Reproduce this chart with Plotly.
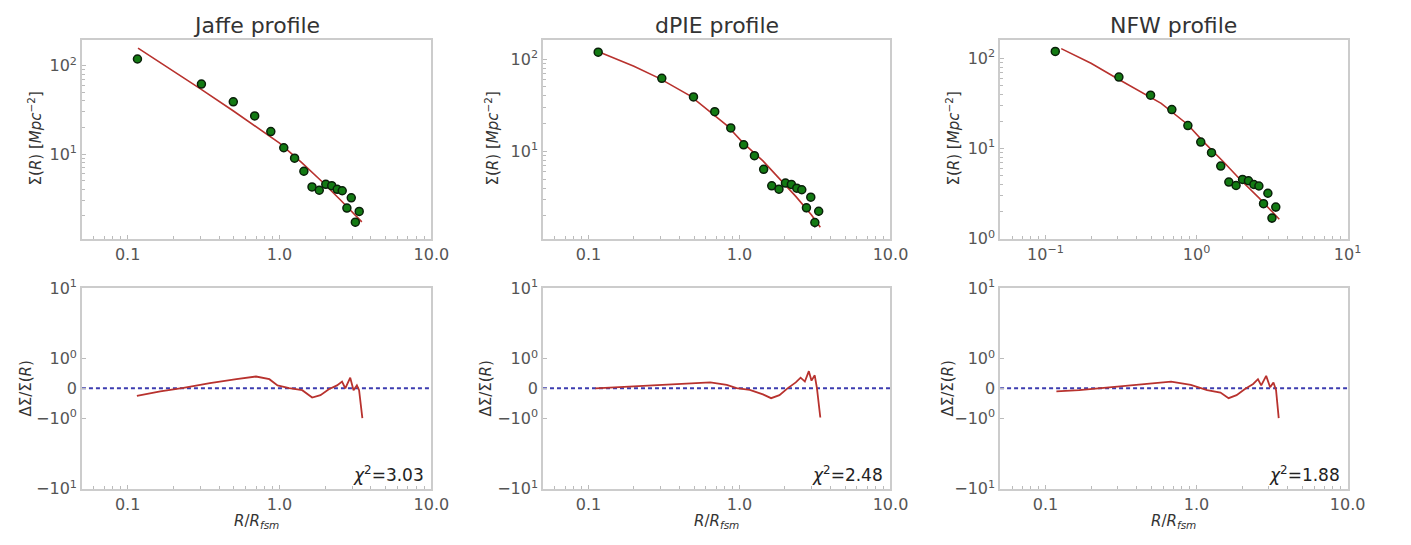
import numpy as np
import plotly.graph_objects as go

# ---------------- data ----------------
r_data = [0.116, 0.306, 0.496, 0.686, 0.876, 1.066, 1.256, 1.446, 1.636,
          1.826, 2.016, 2.206, 2.396, 2.586, 2.776, 2.966, 3.156, 3.346]
sigma_data = [119, 62, 39, 27, 18, 11.8, 9.0, 6.4, 4.25,
              3.9, 4.55, 4.4, 4.0, 3.85, 2.45, 3.2, 1.7, 2.25]
sigma_err = [5, 3, 2.2, 1.6, 1.1, 0.8, 0.6, 0.45, 0.35,
             0.3, 0.35, 0.35, 0.3, 0.3, 0.25, 0.3, 0.2, 0.25]

jaffe_r = [0.117, 0.2, 0.3, 0.5, 0.7, 1.0, 1.4, 1.9, 2.5, 3.0, 3.48]
jaffe_s = [158, 87.5, 55, 30.5, 20.5, 13.3, 8.0, 4.9, 3.07, 2.24, 1.71]

dpie_r = [0.12, 0.2, 0.295, 0.475, 0.824, 1.057, 1.43, 1.79, 2.36, 3.0, 3.43]
dpie_s = [118, 84, 62, 39.8, 19.2, 12.4, 7.9, 5.28, 3.26, 2.05, 1.51]

nfw_r = [0.127, 0.2, 0.304, 0.583, 0.869, 1.117, 1.5, 1.93, 2.61, 3.1, 3.53]
nfw_s = [128, 88, 58.6, 31.7, 18.6, 11.8, 7.2, 4.6, 2.81, 2.1, 1.65]

jaffe_res_r = [0.115, 0.164, 0.233, 0.348, 0.52, 0.70, 0.857, 0.97, 1.156, 1.41,
               1.64, 1.86, 2.11, 2.39, 2.58, 2.71, 2.92, 3.07, 3.23, 3.34, 3.51]
jaffe_res = [-0.25, -0.1, 0.02, 0.18, 0.31, 0.40, 0.31, 0.1, 0.01, -0.06,
             -0.31, -0.23, -0.03, 0.1, 0.23, 0.0, 0.36, -0.06, 0.1, -0.06, -1.0]

dpie_res_r = [0.111, 0.193, 0.352, 0.641, 0.824, 0.957, 1.17, 1.43, 1.62, 1.84,
              2.08, 2.36, 2.54, 2.71, 2.88, 3.0, 3.15, 3.26, 3.43]
dpie_res = [0.0, 0.06, 0.15, 0.2, 0.12, 0.01, -0.05, -0.2, -0.33, -0.23,
            0.0, 0.2, 0.36, 0.23, 0.58, 0.26, 0.44, 0.0, -0.98]

nfw_res_r = [0.118, 0.167, 0.275, 0.454, 0.678, 0.916, 1.175, 1.44, 1.63, 1.84,
             2.09, 2.37, 2.55, 2.68, 2.89, 3.07, 3.23, 3.36, 3.5]
nfw_res = [-0.1, -0.06, 0.04, 0.15, 0.23, 0.12, -0.06, -0.14, -0.33, -0.23,
           -0.02, 0.15, 0.31, 0.1, 0.42, 0.04, 0.2, -0.06, -1.0]

titles = ["Jaffe profile", "dPIE profile", "NFW profile"]
chi2 = ["3.03", "2.48", "1.88"]
models = [(jaffe_r, jaffe_s), (dpie_r, dpie_s), (nfw_r, nfw_s)]
resids = [(jaffe_res_r, jaffe_res), (dpie_res_r, dpie_res), (nfw_res_r, nfw_res)]
top_yrange = [(1.1, 196), (1.13, 162), (1.0, 160)]

# symlog-like transform for the residual axis (linthresh = 1)
LIN = 0.42


def symlog(v):
    v = np.asarray(v, dtype=float)
    out = np.where(np.abs(v) <= 1, LIN * v,
                   np.sign(v) * (LIN + np.log10(np.maximum(np.abs(v), 1e-12))))
    return out


W, H = 1411, 545
cols = [(83, 437), (550, 902), (1013, 1365)]
top_px = (30, 237)
bot_px = (288, 497)


def ydom(px):
    return [(H - px[1]) / H, (H - px[0]) / H]


fig = go.Figure()
FONT = "DejaVu Sans"
tick_font = dict(family=FONT, size=16, color="#555555")
frame = "#cccccc"
minor_vals = [0.05, 0.06, 0.07, 0.08, 0.09, 0.2, 0.3, 0.4, 0.5, 0.6, 0.7, 0.8, 0.9,
              2, 3, 4, 5, 6, 7, 8, 9]
ymin_minor = [2, 3, 4, 5, 6, 7, 8, 9, 20, 30, 40, 50, 60, 70, 80, 90, 200]

annotations = []


def ann(xpx, ypx, text, size, color="#333333", angle=0, xanchor="center"):
    return dict(x=xpx / W, y=(H - ypx) / H, xref="paper", yref="paper",
                xanchor=xanchor, yanchor="middle", text=text, textangle=angle,
                showarrow=False, font=dict(family=FONT, size=size, color=color))


for i in range(3):
    k_top = 2 * i + 1
    k_bot = 2 * i + 2
    xd = [cols[i][0] / W, cols[i][1] / W]

    # ---- top panel ----
    fig.add_trace(go.Scatter(
        x=models[i][0], y=models[i][1], mode="lines",
        line=dict(color="#b8322e", width=1.6), showlegend=False,
        xaxis=f"x{k_top}", yaxis=f"y{k_top}"))
    fig.add_trace(go.Scatter(
        x=r_data, y=sigma_data, mode="markers",
        marker=dict(color="#137a13", size=8, line=dict(color="#0a200a", width=1.5)),
        error_y=dict(type="data", array=sigma_err, color="#1a1a1a", thickness=1.2, width=0),
        showlegend=False, xaxis=f"x{k_top}", yaxis=f"y{k_top}"))

    # ---- bottom panel ----
    fig.add_trace(go.Scatter(
        x=[0.05, 10], y=[0, 0], mode="lines",
        line=dict(color="#3c3cb0", width=2, dash="4px,3px"), showlegend=False,
        xaxis=f"x{k_bot}", yaxis=f"y{k_bot}"))
    fig.add_trace(go.Scatter(
        x=resids[i][0], y=symlog(resids[i][1]), mode="lines",
        line=dict(color="#b8322e", width=1.8), showlegend=False,
        xaxis=f"x{k_bot}", yaxis=f"y{k_bot}"))

    if i == 2:
        top_xtext = ["10<sup>−1</sup>", "10<sup>0</sup>", "10<sup>1</sup>"]
        top_ytv = [1, 10, 100]
        top_ytt = ["10<sup>0</sup>", "10<sup>1</sup>", "10<sup>2</sup>"]
    else:
        top_xtext = ["0.1", "1.0", "10.0"]
        top_ytv = [10, 100]
        top_ytt = ["10<sup>1</sup>", "10<sup>2</sup>"]

    common_x = dict(type="log", range=[np.log10(0.05), 1], domain=xd,
                    showline=True, mirror=True, linecolor=frame, linewidth=1.5,
                    showgrid=False, zeroline=False, ticks="inside", ticklen=4,
                    tickcolor="#bbbbbb", tickfont=tick_font, tickmode="array",
                    tickvals=[0.1, 1, 10],
                    minor=dict(ticks="inside", ticklen=3, tickcolor="#bbbbbb",
                               tickmode="array", tickvals=minor_vals, showgrid=False))
    lay_xt = dict(common_x, ticktext=top_xtext, anchor=f"y{k_top}")
    lay_xb = dict(common_x, ticktext=["0.1", "1.0", "10.0"], anchor=f"y{k_bot}")

    lay_yt = dict(type="log", range=[np.log10(top_yrange[i][0]), np.log10(top_yrange[i][1])],
                  domain=ydom(top_px), anchor=f"x{k_top}",
                  showline=True, mirror=True, linecolor=frame, linewidth=1.5,
                  showgrid=False, zeroline=False, ticks="inside", ticklen=4,
                  tickcolor="#bbbbbb", tickfont=tick_font, tickmode="array",
                  tickvals=top_ytv, ticktext=top_ytt,
                  minor=dict(ticks="inside", ticklen=3, tickcolor="#bbbbbb",
                             tickmode="array", tickvals=ymin_minor, showgrid=False))
    lay_yb = dict(range=[-(LIN + 1), LIN + 1], domain=ydom(bot_px), anchor=f"x{k_bot}",
                  showline=True, mirror=True, linecolor=frame, linewidth=1.5,
                  showgrid=False, zeroline=False, ticks="inside", ticklen=4,
                  tickcolor="#bbbbbb", tickfont=tick_font, tickmode="array",
                  tickvals=list(symlog([-10, -1, 0, 1, 10])),
                  ticktext=["−10<sup>1</sup>", "−10<sup>0</sup>", "0",
                            "10<sup>0</sup>", "10<sup>1</sup>"])

    sx = "xaxis" if k_top == 1 else f"xaxis{k_top}"
    sy = "yaxis" if k_top == 1 else f"yaxis{k_top}"
    fig.update_layout({sx: lay_xt, sy: lay_yt,
                       f"xaxis{k_bot}": lay_xb, f"yaxis{k_bot}": lay_yb})

    cx = (cols[i][0] + cols[i][1]) / 2
    annotations.append(ann(cx, 15, titles[i], 22))
    annotations.append(ann([35, 498, 965][i], 133,
                           "Σ(<i>R</i>) [<i>Mpc</i><sup>−2</sup>]", 15, angle=-90))
    annotations.append(ann([26, 492, 960][i], 393, "ΔΣ/Σ(<i>R</i>)", 15, angle=-90))
    annotations.append(ann(cx, 531, "<i>R</i>/<i>R</i><sub><i>fsm</i></sub>", 15))
    annotations.append(ann(cols[i][1] - 6, 482, "<i>χ</i><sup>2</sup>=" + chi2[i], 17,
                           color="#222222", xanchor="right"))

fig.update_layout(width=W, height=H, margin=dict(l=0, r=0, t=0, b=0),
                  paper_bgcolor="white", plot_bgcolor="white",
                  annotations=annotations, showlegend=False)

fig.write_html("out.html")
